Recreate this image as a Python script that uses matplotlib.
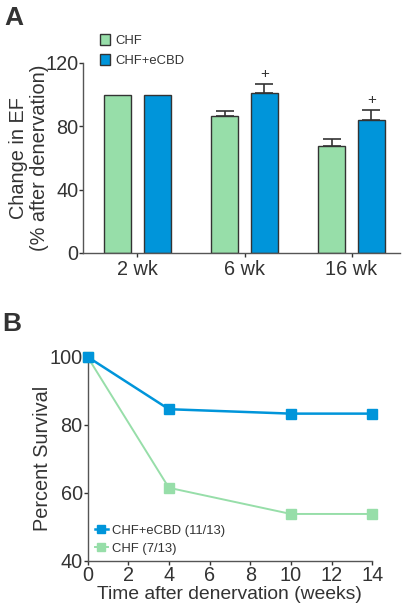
import numpy as np
import matplotlib.pyplot as plt
from matplotlib.patches import Patch

plt.rcParams['font.family'] = ['Liberation Sans', 'DejaVu Sans']

# panel A data
groups = ['2 wk', '6 wk', '16 wk']
ef_chf = [100, 86.5, 67.8]
ef_chf_err = [0, 3.4, 4.0]
ef_cbd = [100, 100.9, 84.0]
ef_cbd_err = [0, 5.6, 6.3]
sig_cbd = ['', '+', '+']

# panel B data
weeks = [0, 4, 10, 14]
surv_cbd = [100, 84.6, 83.3, 83.3]
surv_chf = [100, 61.5, 53.8, 53.8]

green = '#97dea9'
blue = '#0095da'
dark = '#333333'
axcol = '#555555'
fs = 14.3

fig = plt.figure(figsize=(4.09, 6.11), dpi=100)

# ---------- panel A ----------
ax = fig.add_axes([0.203, 0.586, 0.775, 0.311])
x = np.arange(len(groups))
w = 0.252
off = 0.185
ax.bar(x - off, ef_chf, w, color=green, edgecolor=dark, linewidth=1.0, zorder=2)
ax.bar(x + off, ef_cbd, w, color=blue, edgecolor=dark, linewidth=1.0, zorder=2)
for i in range(len(groups)):
    if ef_chf_err[i] > 0:
        ax.errorbar(x[i] - off, ef_chf[i], yerr=[[0], [ef_chf_err[i]]], fmt='none',
                    ecolor=dark, elinewidth=1.2, capsize=6.5, capthick=1.2, zorder=1)
    if ef_cbd_err[i] > 0:
        ax.errorbar(x[i] + off, ef_cbd[i], yerr=[[0], [ef_cbd_err[i]]], fmt='none',
                    ecolor=dark, elinewidth=1.2, capsize=6.5, capthick=1.2, zorder=1)
    if sig_cbd[i]:
        ax.text(x[i] + off, ef_cbd[i] + ef_cbd_err[i] + 6.5, sig_cbd[i],
                ha='center', va='center', fontsize=11, color=dark)

ax.set_xlim(-0.509, 2.453)
ax.set_ylim(0, 120)
ax.set_yticks([0, 40, 80, 120])
ax.set_xticks(x)
ax.set_xticklabels(groups)
ax.spines['top'].set_visible(False)
ax.spines['right'].set_visible(False)
for s in ['left', 'bottom']:
    ax.spines[s].set_color(axcol)
    ax.spines[s].set_linewidth(1.0)
ax.tick_params(axis='both', labelsize=fs, colors=dark, length=3, width=1.0, pad=0.5)
ax.tick_params(axis='x', pad=2)
ax.set_ylabel('Change in EF\n(% after denervation)', fontsize=fs, color=dark,
              linespacing=1.1)
ax.yaxis.set_label_coords(-0.108, 0.5)
ax.legend(handles=[Patch(facecolor=green, edgecolor=dark, label='CHF'),
                   Patch(facecolor=blue, edgecolor=dark, label='CHF+eCBD')],
          loc='upper left', bbox_to_anchor=(0.055, 1.15), frameon=False,
          fontsize=9.4, handlelength=0.75, handleheight=0.9, handletextpad=0.4,
          labelspacing=0.5, borderpad=0, borderaxespad=0, labelcolor=dark)
fig.text(0.010, 0.99, 'A', fontsize=19, fontweight='bold', color=dark, va='top')

# ---------- panel B ----------
bx = fig.add_axes([0.214, 0.082, 0.696, 0.334])
bx.plot(weeks, surv_cbd, '-s', color=blue, lw=1.8, ms=7.5, clip_on=False, zorder=3,
        label='CHF+eCBD (11/13)')
bx.plot(weeks, surv_chf, '-s', color=green, lw=1.4, ms=7.5, clip_on=False, zorder=2,
        label='CHF (7/13)')
bx.set_xlim(0, 14)
bx.set_ylim(40, 100)
bx.set_xticks(range(0, 15, 2))
bx.set_yticks([40, 60, 80, 100])
bx.spines['top'].set_visible(False)
bx.spines['right'].set_visible(False)
for s in ['left', 'bottom']:
    bx.spines[s].set_color(axcol)
    bx.spines[s].set_linewidth(1.0)
bx.tick_params(axis='both', labelsize=fs, colors=dark, length=3, width=1.0, pad=0.5)
bx.set_xlabel('Time after denervation (weeks)', fontsize=13.9, color=dark, labelpad=1)
bx.set_ylabel('Percent Survival', fontsize=fs, color=dark)
bx.yaxis.set_label_coords(-0.125, 0.5)
bx.legend(loc='lower left', bbox_to_anchor=(0.025, 0.03), frameon=False,
          fontsize=9.4, handlelength=1.0, handletextpad=0.3, labelspacing=0.45,
          borderpad=0, borderaxespad=0, labelcolor=dark, markerscale=0.8)
fig.text(0.006, 0.49, 'B', fontsize=19, fontweight='bold', color=dark, va='top')

plt.savefig('out.png', dpi=100)
